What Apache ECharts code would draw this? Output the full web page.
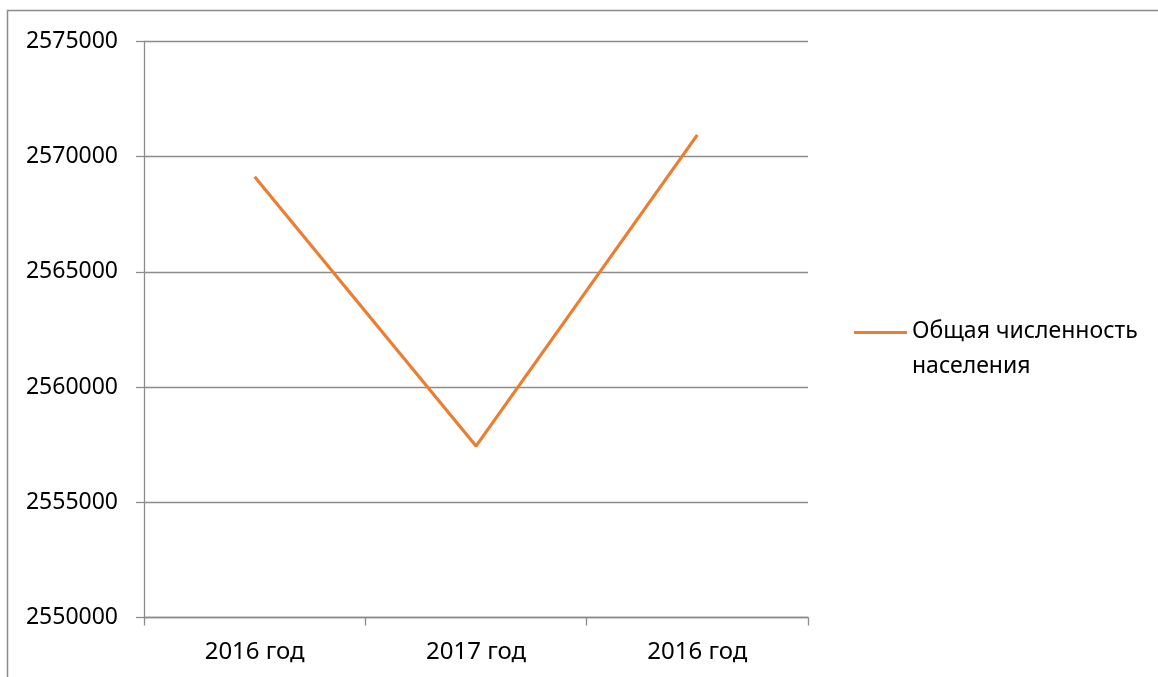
<!DOCTYPE html>
<html>
<head>
<meta charset="utf-8">
<script src="https://cdn.jsdelivr.net/npm/echarts@6/dist/echarts.min.js"></script>
<style>
html,body{margin:0;padding:0;background:#fff;}
#chart{width:1158px;height:677px;}
</style>
</head>
<body>
<div id="chart"></div>
<script>
const categories = ['2016 год', '2017 год', '2016 год'];
const seriesName = 'Общая численность населения';
const populationValues = [2569130, 2557440, 2570950];
const yMin = 2550000, yMax = 2575000, yStep = 5000;

const FONT = '"Noto Sans", sans-serif';
const chart = echarts.init(document.getElementById('chart'), null, {renderer: 'canvas'});
chart.setOption({
  backgroundColor: '#ffffff',
  animation: false,
  graphic: [{
    type: 'rect', silent: true, z: -1,
    shape: {x: 7.5, y: 10.5, width: 1200, height: 700},
    style: {fill: 'none', stroke: '#8c8c8c', lineWidth: 1.5}
  }],
  grid: {left: 144, right: 350, top: 41.5, bottom: 59.5, containLabel: false},
  legend: {
    left: 849, top: 309, orient: 'vertical',
    itemWidth: 53, itemHeight: 36,
    icon: 'path://M0,0L53,0L53,3L0,3Z M0,36L0,36',
    formatter: function () { return 'Общая численность\nнаселения'; },
    textStyle: {fontFamily: FONT, fontSize: 23, color: '#000', lineHeight: 35},
    data: [seriesName]
  },
  xAxis: {
    type: 'category', data: categories, boundaryGap: true,
    axisLine: {lineStyle: {color: '#8c8c8c', width: 1.3}},
    axisTick: {show: true, length: 8, lineStyle: {color: '#8c8c8c', width: 1.3}},
    axisLabel: {fontFamily: FONT, fontSize: 24, color: '#000', margin: 23},
    splitLine: {show: false}
  },
  yAxis: {
    type: 'value', min: yMin, max: yMax, interval: yStep,
    axisLine: {show: true, lineStyle: {color: '#8c8c8c', width: 1.3}},
    axisTick: {show: true, length: 8, lineStyle: {color: '#8c8c8c', width: 1.3}},
    axisLabel: {fontFamily: FONT, fontSize: 23, color: '#000', margin: 26,
      formatter: function (v) { return String(v); }},
    splitLine: {show: true, lineStyle: {color: '#8c8c8c', width: 1.3}}
  },
  series: [{
    name: seriesName, type: 'line', data: populationValues,
    showSymbol: false, symbol: 'none',
    lineStyle: {color: '#ED7D31', width: 3.2},
    itemStyle: {color: '#ED7D31'}
  }]
});
</script>
</body>
</html>
